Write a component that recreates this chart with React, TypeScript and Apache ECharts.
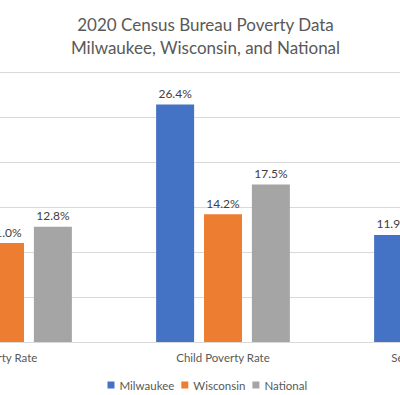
import React, { useEffect, useRef } from "react";
import * as echarts from "echarts";

const titleLines = ["2020 Census Bureau Poverty Data", "Milwaukee, Wisconsin, and National"];
const categories = ["Poverty Rate", "Child Poverty Rate", "Senior Poverty Rate"];
const seriesNames = ["Milwaukee", "Wisconsin", "National"];
const milwaukee = [24.1, 26.4, 11.9];
const wisconsin = [11.0, 14.2, 7.9];
const national = [12.8, 17.5, 9.0];
const colors = ["#4472C4", "#ED7D31", "#A5A5A5"];
const yTicks = { min: 0, max: 30, interval: 5 };

const OFFSET = -104.5;
const CHART_W = 654;

export default function App() {
  const ref = useRef<HTMLDivElement>(null);
  useEffect(() => {
    if (!ref.current) return;
    const chart = echarts.init(ref.current, undefined, { renderer: "svg" });
    const font = "Lato, 'Open Sans', sans-serif";
    const dataSets = [milwaukee, wisconsin, national];
    chart.setOption({
      animation: false,
      textStyle: { fontFamily: font },
      graphic: titleLines.map((t, i) => ({
        type: "text",
        x: 205 - OFFSET,
        y: 24 + i * 23,
        style: {
          text: t,
          textAlign: "center",
          textVerticalAlign: "middle",
          fontFamily: font,
          fontSize: 17,
          fill: "#595959",
        },
      })),
      legend: {
        data: seriesNames,
        left: 107 - OFFSET,
        top: 379,
        padding: 0,
        icon: "rect",
        itemWidth: 7,
        itemHeight: 7,
        itemGap: 7,
        textStyle: { color: "#595959", fontSize: 11.5, fontFamily: font },
      },
      grid: { left: 0, right: 0, top: 72, bottom: 53, containLabel: false },
      xAxis: {
        type: "category",
        data: categories,
        axisLine: { lineStyle: { color: "#d9d9d9" } },
        axisTick: { show: false },
        axisLabel: { color: "#595959", fontSize: 11.5, margin: 9, fontFamily: font },
      },
      yAxis: {
        type: "value",
        min: yTicks.min,
        max: yTicks.max,
        interval: yTicks.interval,
        axisLabel: { show: false },
        axisLine: { show: false },
        axisTick: { show: false },
        splitLine: { lineStyle: { color: "#d9d9d9" } },
      },
      series: seriesNames.map((n, i) => ({
        name: n,
        type: "bar",
        data: dataSets[i],
        barWidth: 38,
        barGap: "26%",
        itemStyle: { color: colors[i] },
        label: {
          show: true,
          position: "top",
          distance: 5,
          color: "#404040",
          fontSize: 12,
          fontFamily: font,
          formatter: (p: any) => Number(p.value).toFixed(1) + "%",
        },
      })),
    });
    return () => chart.dispose();
  }, []);
  return (
    <div style={{ position: "fixed", left: 0, top: 0, width: 400, height: 395, overflow: "hidden", background: "#fff" }}>
      <div ref={ref} style={{ position: "absolute", left: OFFSET, top: 0, width: CHART_W, height: 395 }} />
    </div>
  );
}
